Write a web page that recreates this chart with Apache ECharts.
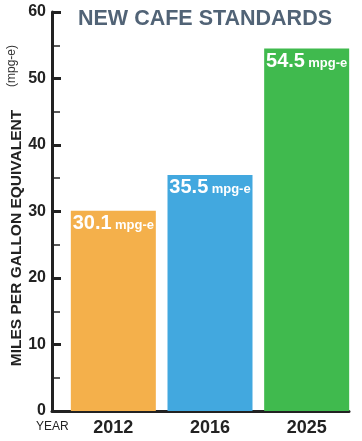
<!DOCTYPE html>
<html><head><meta charset="utf-8">
<script src="https://cdn.jsdelivr.net/npm/echarts@6/dist/echarts.min.js"></script>
<style>html,body{margin:0;padding:0;background:#fff}#c{width:362px;height:441px}</style>
</head><body><div id="c"></div>
<script>
const categories = ['2012', '2016', '2025'];
const values = [30.1, 35.5, 54.5];
const colors = ['#F4B04B', '#42A8DF', '#40BA4E'];
const unit = 'mpg-e';
const yTicks = [0, 10, 20, 30, 40, 50, 60];
const titleText = 'NEW CAFE STANDARDS';
const yName = 'MILES PER GALLON EQUIVALENT';
const yUnit = '(mpg-e)';
const xName = 'YEAR';

const FONT = '"Liberation Sans", Arial, sans-serif';
const chart = echarts.init(document.getElementById('c'), null, {renderer: 'canvas'});
chart.setOption({
  animation: false,
  backgroundColor: '#fff',
  title: {text: titleText, left: 73, top: 3,
    textStyle: {fontFamily: FONT, fontSize: 21.5, fontWeight: 900, color: '#516376'}},
  grid: [
    {left: 65, right: 7, top: 12, bottom: 30},
    {left: 52, right: 13, top: 12, bottom: 30}
  ],
  xAxis: [
    {type: 'category', data: categories, gridIndex: 0,
     axisLine: {show: false}, axisTick: {show: false},
     axisLabel: {fontFamily: FONT, fontSize: 18, fontWeight: 'bold', color: '#222', margin: 8}},
    {type: 'value', gridIndex: 1, min: 0, max: 1, show: true,
     axisLine: {show: true, lineStyle: {color: '#222', width: 3}},
     axisTick: {show: false}, axisLabel: {show: false}, splitLine: {show: false}}
  ],
  yAxis: [
    {type: 'value', gridIndex: 0, min: yTicks[0], max: yTicks[yTicks.length - 1], interval: 10,
     offset: 13,
     axisLine: {show: true, lineStyle: {color: '#222', width: 3}},
     axisTick: {show: true, inside: true, length: 9, lineStyle: {color: '#222', width: 3}},
     minorTick: {show: true, splitNumber: 2, length: 8, lineStyle: {color: '#222', width: 1.5}},
     splitLine: {show: false},
     axisLabel: {fontFamily: FONT, fontSize: 16, fontWeight: 'bold', color: '#222', margin: 6}},
    {type: 'value', gridIndex: 1, min: 0, max: 1, show: false}
  ],
  series: [{
    type: 'bar', xAxisIndex: 0, yAxisIndex: 0,
    barWidth: 85,
    data: values.map((v, i) => ({value: v, itemStyle: {color: colors[i]}})),
    label: {show: true, position: 'insideTop', distance: 3,
      formatter: p => '{v|' + p.value.toFixed(1) + '} {u|' + unit + '}',
      rich: {
        v: {fontFamily: FONT, fontSize: 20, fontWeight: 'bold', color: '#fff'},
        u: {fontFamily: FONT, fontSize: 13, fontWeight: 'bold', color: '#fff', padding: [3, 0, 0, 0]}
      }}
  }],
  graphic: [
    {type: 'text', rotation: Math.PI / 2, x: 17, y: 238,
     style: {text: yName, font: 'bold 15.5px ' + FONT, fill: '#222', align: 'center', verticalAlign: 'middle'}},
    {type: 'text', rotation: Math.PI / 2, x: 12, y: 66,
     style: {text: yUnit, font: '12px ' + FONT, fill: '#333', align: 'center', verticalAlign: 'middle'}},
    {type: 'text', x: 36, y: 427,
     style: {text: xName, font: '12px ' + FONT, fill: '#222', align: 'left', verticalAlign: 'middle'}}
  ]
});
</script></body></html>
